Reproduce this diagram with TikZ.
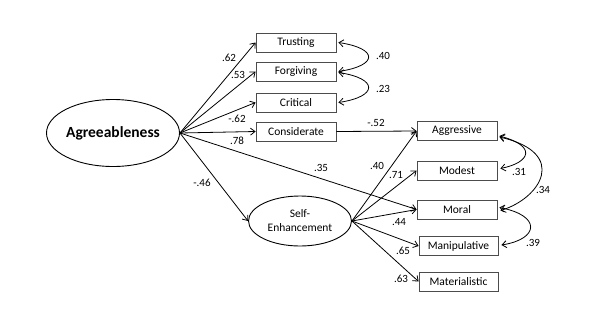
\documentclass[tikz,border=0pt]{standalone}
\usepackage{fontspec}
\setmainfont{Carlito}
\usetikzlibrary{arrows.meta,shapes.geometric}
\begin{document}
\begin{tikzpicture}[x=1pt,y=-1pt,
  obs/.style={draw=black!70,line width=0.8pt,minimum width=80pt,minimum height=19pt,inner sep=0pt,font=\fontsize{11.5}{12}\selectfont},
  lat/.style={draw,ellipse,line width=0.9pt,inner sep=0pt,align=center},
  path/.style={line width=0.8pt,-{Straight Barb[length=4.5pt,width=7pt]}},
  cov/.style={line width=0.8pt,{Straight Barb[length=4.5pt,width=7pt]}-{Straight Barb[length=4.5pt,width=7pt]}},
  coef/.style={font=\fontsize{11}{12}\selectfont,inner sep=0pt}]
\useasboundingbox (0,0) rectangle (604,327);
\fill[white] (0,0) rectangle (604,327);

% latent factors
\node[lat,minimum width=133pt,minimum height=67pt,font=\bfseries\fontsize{15.5}{17}\selectfont] (agr) at (113,133) {Agreeableness};
\node[lat,minimum width=103pt,minimum height=50pt,font=\fontsize{11.5}{14}\selectfont] (se) at (300,221) {Self-\\Enhancement};

% agreeableness indicators
\node[obs] (tru) at (296,42.5) {Trusting};
\node[obs] (for) at (296,71.5) {Forgiving};
\node[obs] (cri) at (296,102.5) {Critical};
\node[obs] (con) at (296,131.5) {Considerate};

% outcome indicators
\node[obs] (agg) at (457,131) {Aggressive};
\node[obs] (mod) at (457,170.5) {Modest};
\node[obs] (mor) at (457,209.5) {Moral};
\node[obs,minimum width=79pt] (man) at (458.5,246) {Manipulative};
\node[obs,minimum width=79pt] (mat) at (458.5,281.5) {Materialistic};

% paths from Agreeableness
\draw[path] (agr.east) -- (tru.west);
\draw[path] (agr.east) -- (for.west);
\draw[path] (agr.east) -- (cri.west);
\draw[path] (agr.east) -- (con.west);
\draw[path] (agr.east) -- (mor.west);
\draw[path] (agr.east) -- (se.west);
\draw[path] (con.east) -- (agg.west);

% paths from Self-Enhancement
\draw[path] (se.east) -- (agg.west);
\draw[path] (se.east) -- (mod.west);
\draw[path] (se.east) -- (mor.west);
\draw[path] (se.east) -- (man.west);
\draw[path] (se.east) -- (mat.west);

% residual covariances
\draw[cov] ([xshift=2pt]tru.east) .. controls +(40,6) and +(40,-6) .. ([xshift=2pt]for.east);
\draw[cov] ([xshift=2pt,yshift=-1pt]for.east) .. controls +(40,6) and +(40,-6) .. ([xshift=2pt]cri.east);
\draw[cov] ([xshift=2pt,yshift=-5pt]agg.east) .. controls +(38,10) and +(30,-6) .. ([xshift=3pt,yshift=2pt]mod.east);
\draw[cov] ([xshift=2pt,yshift=-6pt]agg.east) .. controls +(70,16) and +(40,-12) .. ([xshift=3pt,yshift=-1pt]mor.east);
\draw[cov] ([xshift=2pt,yshift=2pt]mor.east) .. controls +(42,8) and +(38,-6) .. ([xshift=3pt,yshift=1pt]man.east);

% coefficients
\node[coef] (c1) at (229,58) {.62};
\node[coef] (c2) at (238,75) {.53};
\node[coef] (c3) at (237,119) {-.62};
\node[coef] (c4) at (237,141) {.78};
\node[coef] (c5) at (202,183) {-.46};
\node[coef] (c6) at (321,168) {.35};
\node[coef] (c7) at (376,123) {-.52};
\node[coef] (c8) at (377,166) {.40};
\node[coef] (c9) at (396,175) {.71};
\node[coef] (c10) at (399,222) {.44};
\node[coef] (c11) at (403,251) {.65};
\node[coef] (c12) at (401,279) {.63};
\node[coef] (c13) at (383,56) {.40};
\node[coef] (c14) at (383,89) {.23};
\node[coef] (c15) at (519,172) {.31};
\node[coef] (c16) at (543,190) {.34};
\node[coef] (c17) at (533,243) {.39};
\end{tikzpicture}
\end{document}
